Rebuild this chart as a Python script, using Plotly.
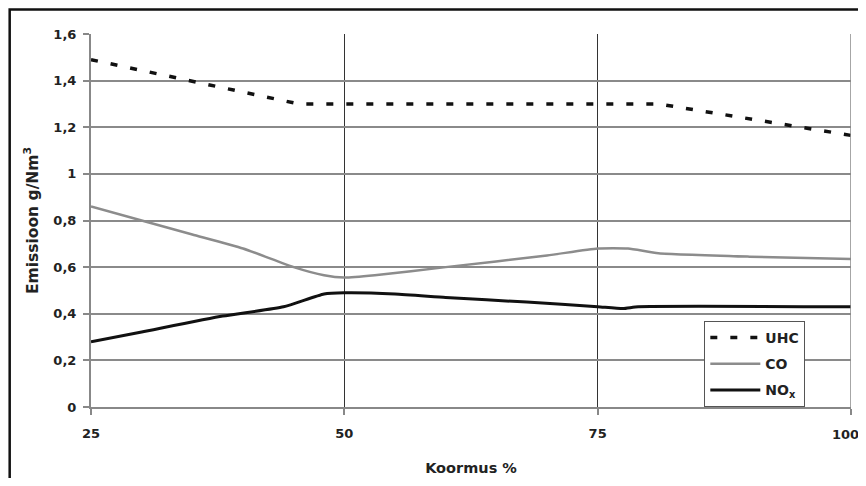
import plotly.graph_objects as go

# Data
uhc_x = [25, 45.5, 81, 100]
uhc_y = [1.49, 1.30, 1.30, 1.165]

co_x = [25, 30, 35, 40, 45, 48, 50, 53, 60, 70, 75, 78, 81, 90, 100]
co_y = [0.86, 0.80, 0.74, 0.68, 0.60, 0.565, 0.555, 0.565, 0.60, 0.65, 0.68, 0.68, 0.66, 0.645, 0.635]

nox_x = [25, 30, 38, 44, 48, 50, 55, 60, 68, 75, 77.5, 79, 100]
nox_y = [0.28, 0.322, 0.39, 0.43, 0.485, 0.49, 0.485, 0.47, 0.45, 0.43, 0.422, 0.43, 0.43]

x_ticks = [25, 50, 75, 100]
x_ticklabels = ["25", "50", "75", "100"]
y_ticks = [0, 0.2, 0.4, 0.6, 0.8, 1.0, 1.2, 1.4, 1.6]
y_ticklabels = ["0", "0,2", "0,4", "0,6", "0,8", "1", "1,2", "1,4", "1,6"]

FONT = "DejaVu Sans, Liberation Sans, Arial, sans-serif"

fig = go.Figure()
fig.add_trace(go.Scatter(x=uhc_x, y=uhc_y, mode="lines", name="UHC", legendgroup="a",
                         line=dict(color="#111111", width=3.5, dash="7px,13px")))
fig.add_trace(go.Scatter(x=co_x, y=co_y, mode="lines", name="CO", legendgroup="b",
                         line=dict(color="#8c8c8c", width=2.5, shape="spline", smoothing=0.5)))
fig.add_trace(go.Scatter(x=nox_x, y=nox_y, mode="lines", name="NO<sub>x</sub>", legendgroup="c",
                         line=dict(color="#111111", width=3, shape="spline", smoothing=0.5)))

# page has an 8px body margin, so the figure is sized/margined to compensate
fig.update_layout(
    width=858, height=470,
    margin=dict(l=83, r=15, t=26, b=71, autoexpand=False),
    paper_bgcolor="white", plot_bgcolor="white",
    font=dict(family=FONT, size=13, color="#222222", weight="bold"),
    showlegend=True,
    legend=dict(x=0.807, y=0.0, xanchor="left", yanchor="bottom",
                bgcolor="white", bordercolor="#555555", borderwidth=1,
                traceorder="grouped", tracegroupgap=5, itemwidth=50,
                font=dict(family=FONT, size=14, color="#222222", weight="bold")),
)

# last x tick label is drawn as an annotation so it can sit just inside the view
fig.update_xaxes(
    range=[25, 100], tickvals=x_ticks,
    ticktext=x_ticklabels[:-1] + [""],
    showgrid=True, gridcolor="#333333", gridwidth=1,
    showline=True, linecolor="#888888", linewidth=2, mirror=False,
    ticks="outside", ticklen=6, tickcolor="#888888", tickwidth=1.5,
    zeroline=False, automargin=False, ticklabelstandoff=7,
    tickfont=dict(size=13),
    title=dict(text="Koormus %", font=dict(size=14.5, weight="bold"), standoff=23),
)
fig.update_yaxes(
    range=[0, 1.6], tickvals=y_ticks, ticktext=y_ticklabels,
    showgrid=True, gridcolor="#8a8a8a", gridwidth=1.5,
    showline=True, linecolor="#888888", linewidth=2,
    ticks="outside", ticklen=6, tickcolor="#888888", tickwidth=1.5,
    zeroline=False, automargin=False, ticklabelstandoff=4,
    tickfont=dict(size=13),
    title=dict(text="Emissioon g/Nm<sup>3</sup>", font=dict(size=15.5, weight="bold"), standoff=11),
)

fig.add_annotation(x=x_ticks[-1], y=0, xref="x", yref="y", text=x_ticklabels[-1],
                   showarrow=False, xanchor="center", yanchor="middle",
                   xshift=-6, yshift=-27,
                   font=dict(family=FONT, size=13, color="#222222", weight="bold"))

# right edge of plot area
fig.add_shape(type="line", xref="x", yref="y", x0=100, x1=100, y0=0, y1=1.6,
              line=dict(color="#888888", width=1.5))

# outer frame (extends past the right and bottom of the view)
fig.add_shape(type="rect", xref="paper", yref="paper",
              x0=-0.107, x1=1.05, y0=-0.3, y1=1.066,
              line=dict(color="#111111", width=2.5), layer="below")

fig.write_html("out.html")
